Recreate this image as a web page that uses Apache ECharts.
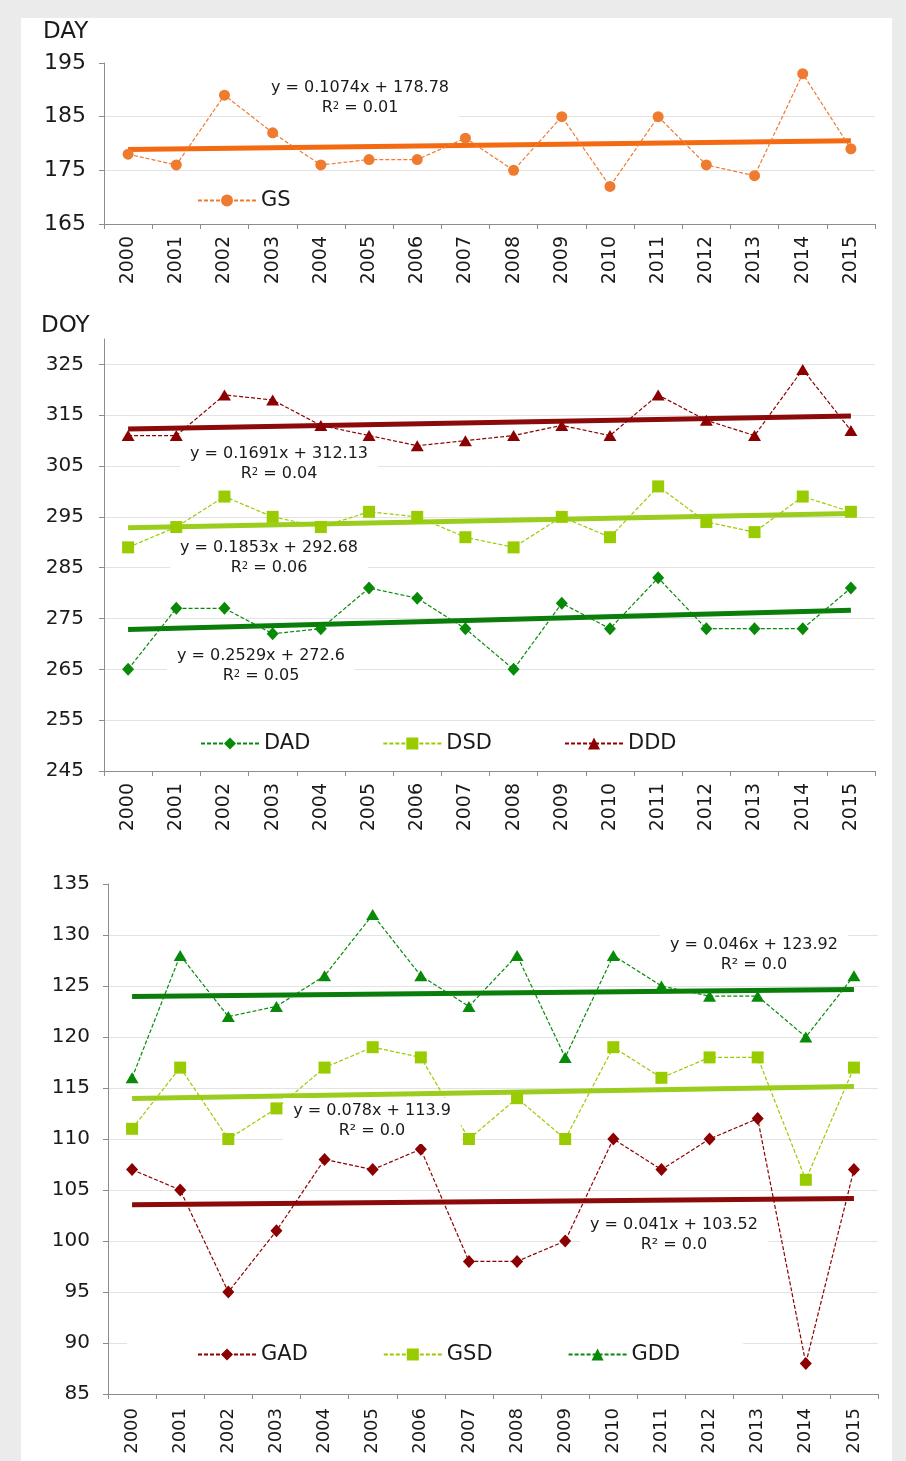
<!DOCTYPE html>
<html>
<head>
<meta charset="utf-8">
<title>Phenology trends 2000-2015</title>
<script src="https://cdn.jsdelivr.net/npm/echarts@6/dist/echarts.min.js"></script>
<style>
  html, body { margin: 0; padding: 0; background: #ebebeb; }
  #frame { position: absolute; left: 21px; top: 18px; width: 871px; height: 1443px; background: #ffffff; }
  #chart { position: absolute; left: 0; top: 0; width: 906px; height: 1461px; }
</style>
</head>
<body>
<div id="frame"></div>
<div id="chart"></div>
<script>
// Years on the category axes
const years = ['2000', '2001', '2002', '2003', '2004', '2005', '2006', '2007',
               '2008', '2009', '2010', '2011', '2012', '2013', '2014', '2015'];

// Growing season length (days)
const gsValues  = [178, 176, 189, 182, 176, 177, 177, 181, 175, 185, 172, 185, 176, 174, 193, 179];

// Dormancy dates (day of year)
const dadValues = [265, 277, 277, 272, 273, 281, 279, 273, 265, 278, 273, 283, 273, 273, 273, 281];
const dsdValues = [289, 293, 299, 295, 293, 296, 295, 291, 289, 295, 291, 301, 294, 292, 299, 296];
const dddValues = [311, 311, 319, 318, 313, 311, 309, 310, 311, 313, 311, 319, 314, 311, 324, 312];

// Greenup dates (day of year)
const gadValues = [107, 105, 95, 101, 108, 107, 109, 98, 98, 100, 110, 107, 110, 112, 88, 107];
const gsdValues = [111, 117, 110, 113, 117, 119, 118, 110, 114, 110, 119, 116, 118, 118, 106, 117];
const gddValues = [116, 128, 122, 123, 126, 132, 126, 123, 128, 118, 128, 125, 124, 124, 120, 126];

// Linear fits [slope, intercept] with x = 1..16, and their R² values
const gsFit  = [0.1074, 178.78];
const dddFit = [0.1691, 312.13];
const dsdFit = [0.1853, 292.68];
const dadFit = [0.2529, 272.6];
const gddFit = [0.046, 123.92];
const gsdFit = [0.078, 113.9];
const gadFit = [0.041, 103.52];
const r2Values = { GS: '0.01', DDD: '0.04', DSD: '0.06', DAD: '0.05', GDD: '0.0', GSD: '0.0', GAD: '0.0' };

// Value axis ranges [min, max, interval]
const dayAxis = [165, 195, 10];
const doyAxis = [245, 330, 10];
const greenAxis = [85, 135, 5];

const FONT = 'DejaVu Sans';
const INK = '#1a1a1a';
const AXIS = '#8c8c8c';
const GRIDLINE = '#e3e3e3';

const ORANGE = '#EE7B30', ORANGE_FIT = '#F46A12';
const RED = '#8B0000', RED_FIT = '#8B0A0A';
const LIME = '#99CC00', LIME_FIT = '#9ACD1E';
const GREEN = '#078A07', GREEN_FIT = '#0A7D0A';

function catAxis(idx, fontSize, margin) {
  return {
    type: 'category', gridIndex: idx, data: years, boundaryGap: true,
    axisLine: { lineStyle: { color: AXIS, width: 1 } },
    axisTick: { show: true, length: 5, lineStyle: { color: AXIS } },
    axisLabel: { rotate: 90, margin: margin, fontFamily: FONT, fontSize: fontSize, color: INK }
  };
}

function valAxis(idx, range, fontSize, margin) {
  // the label at the top end is only shown when it falls on a regular tick
  const maxOnTick = (range[1] - range[0]) % range[2] === 0;
  return {
    type: 'value', gridIndex: idx, min: range[0], max: range[1], interval: range[2],
    axisLine: { show: true, lineStyle: { color: AXIS, width: 1 } },
    axisTick: { show: true, length: 5, lineStyle: { color: AXIS } },
    axisLabel: { margin: margin, fontFamily: FONT, fontSize: fontSize, color: INK, showMaxLabel: maxOnTick },
    splitLine: { show: true, showMinLine: false, showMaxLine: false, lineStyle: { color: GRIDLINE, width: 1 } }
  };
}

function dataSeries(name, values, color, symbol, size, idx) {
  return {
    name: name, type: 'line', xAxisIndex: idx, yAxisIndex: idx, data: values,
    symbol: symbol, symbolSize: size, showSymbol: true,
    itemStyle: { color: color },
    lineStyle: { color: color, width: 1.2, type: [4, 2] },
    emphasis: { disabled: true }, z: 3
  };
}

function fitSeries(fit, color, idx) {
  const a = fit[0], b = fit[1], n = years.length;
  return {
    type: 'line', xAxisIndex: idx, yAxisIndex: idx,
    data: [[0, a * 1 + b], [n - 1, a * n + b]],
    symbol: 'none', lineStyle: { color: color, width: 5 }, silent: true, z: 2
  };
}

function fitLabel(x, y, fit, r2, useSupChar) {
  const eq = 'y = ' + fit[0] + 'x + ' + fit[1];
  const second = useSupChar ? ('R² = ' + r2) : ('R{s|2} = ' + r2);
  return {
    type: 'text', x: x, y: y, z: 100, silent: true,
    style: {
      text: eq + '\n' + second,
      fontFamily: FONT, fontSize: 16, fill: INK, lineHeight: 20,
      align: 'center', verticalAlign: 'middle',
      backgroundColor: '#ffffff', padding: [3, 10],
      rich: { s: { fontFamily: FONT, fontSize: 10, lineHeight: 20, verticalAlign: 'top', fill: INK, padding: [3, 0, 0, 0] } }
    }
  };
}

function axisTitle(x, y, text) {
  return {
    type: 'text', x: x, y: y, silent: true,
    style: { text: text, fontFamily: FONT, fontSize: 23, fill: INK, align: 'left', verticalAlign: 'middle' }
  };
}

function legendBox(names, left, top, gap, extra) {
  return Object.assign({
    data: names, left: left, top: top, orient: 'horizontal',
    itemWidth: 58, itemHeight: 15, itemGap: gap,
    textStyle: { fontFamily: FONT, fontSize: 21, color: INK },
    selectedMode: false, padding: 0
  }, extra || {});
}

const chart = echarts.init(document.getElementById('chart'), null, { renderer: 'canvas' });

chart.setOption({
  animation: false,
  backgroundColor: 'transparent',
  grid: [
    { left: 104, width: 771, top: 63, height: 161 },
    { left: 104, width: 771, top: 339, height: 432 },
    { left: 108, width: 770, top: 884, height: 510 }
  ],
  xAxis: [catAxis(0, 19, 12), catAxis(1, 19, 12), catAxis(2, 18, 14)],
  yAxis: [valAxis(0, dayAxis, 22, 18), valAxis(1, doyAxis, 20, 20), valAxis(2, greenAxis, 20, 18)],
  legend: [
    legendBox(['GS'], 197, 190, 10),
    legendBox(['DAD', 'DSD', 'DDD'], 200, 733, 72),
    legendBox(['GAD', 'GSD', 'GDD'], 127, 1330, 75, { backgroundColor: '#ffffff', padding: [14, 63, 10, 70] })
  ],
  series: [
    fitSeries(gsFit, ORANGE_FIT, 0),
    dataSeries('GS', gsValues, ORANGE, 'circle', 11, 0),

    fitSeries(dadFit, GREEN_FIT, 1),
    fitSeries(dsdFit, LIME_FIT, 1),
    fitSeries(dddFit, RED_FIT, 1),
    dataSeries('DAD', dadValues, GREEN, 'diamond', [12, 13], 1),
    dataSeries('DSD', dsdValues, LIME, 'rect', 12, 1),
    dataSeries('DDD', dddValues, RED, 'triangle', [13, 11], 1),

    fitSeries(gadFit, RED_FIT, 2),
    fitSeries(gsdFit, LIME_FIT, 2),
    fitSeries(gddFit, GREEN_FIT, 2),
    dataSeries('GAD', gadValues, RED, 'diamond', [12, 13], 2),
    dataSeries('GSD', gsdValues, LIME, 'rect', 12, 2),
    dataSeries('GDD', gddValues, GREEN, 'triangle', [13, 11], 2)
  ],
  graphic: [
    axisTitle(43, 32, 'DAY'),
    axisTitle(41, 326, 'DOY'),
    fitLabel(360, 98, gsFit, r2Values.GS, false),
    fitLabel(279, 464, dddFit, r2Values.DDD, false),
    fitLabel(269, 558, dsdFit, r2Values.DSD, false),
    fitLabel(261, 666, dadFit, r2Values.DAD, false),
    fitLabel(754, 955, gddFit, r2Values.GDD, true),
    fitLabel(372, 1121, gsdFit, r2Values.GSD, true),
    fitLabel(674, 1235, gadFit, r2Values.GAD, true)
  ]
});
</script>
</body>
</html>
